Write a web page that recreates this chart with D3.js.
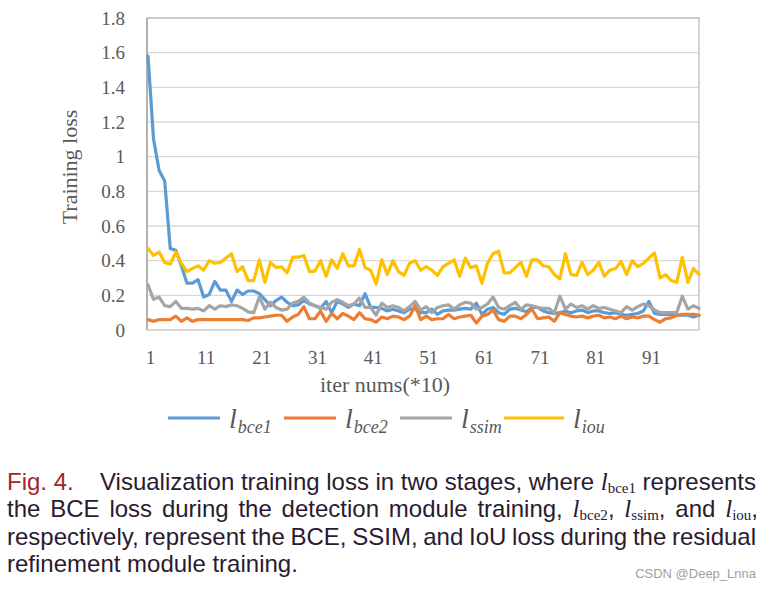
<!DOCTYPE html>
<html><head><meta charset="utf-8">
<script src="https://cdn.jsdelivr.net/npm/d3@7"></script>
<style>body{margin:0;background:#fff}svg{display:block}</style>
</head><body>
<svg id="c" width="771" height="589"></svg>
<script>
const iters = d3.range(1, 101);
const xTickLabels = ["1","11","21","31","41","51","61","71","81","91"];
const yTickValues = [0,0.2,0.4,0.6,0.8,1,1.2,1.4,1.6,1.8];
const seriesNames = ["bce1","bce2","ssim","iou"];
const seriesColors = ["#5B9BD5","#ED7D31","#A5A5A5","#FFC000"];

const bce1 = [1.58,1.10,0.92,0.86,0.47,0.46,0.37,0.27,0.27,0.29,
0.19,0.205,0.28,0.23,0.23,0.165,0.23,0.205,0.225,0.225,
0.21,0.175,0.14,0.17,0.19,0.16,0.14,0.145,0.17,0.15,
0.14,0.125,0.165,0.10,0.165,0.15,0.13,0.15,0.14,0.21,
0.13,0.13,0.125,0.11,0.12,0.11,0.10,0.12,0.12,0.10,
0.10,0.12,0.09,0.11,0.115,0.115,0.12,0.125,0.12,0.155,
0.09,0.12,0.13,0.10,0.09,0.12,0.125,0.115,0.105,0.13,
0.13,0.11,0.10,0.095,0.10,0.11,0.10,0.11,0.115,0.10,
0.11,0.11,0.10,0.095,0.10,0.09,0.085,0.09,0.095,0.11,
0.165,0.095,0.09,0.09,0.09,0.085,0.085,0.085,0.075,0.085];
const bce2 = [0.06,0.05,0.06,0.06,0.06,0.08,0.05,0.07,0.05,0.06,
0.06,0.06,0.06,0.06,0.06,0.06,0.06,0.06,0.055,0.07,
0.07,0.075,0.08,0.085,0.085,0.05,0.075,0.09,0.135,0.065,
0.065,0.11,0.05,0.095,0.065,0.095,0.08,0.06,0.10,0.065,
0.06,0.045,0.075,0.065,0.08,0.075,0.06,0.08,0.14,0.06,
0.08,0.06,0.065,0.065,0.09,0.065,0.075,0.08,0.085,0.04,
0.08,0.09,0.115,0.06,0.05,0.08,0.08,0.065,0.09,0.12,
0.065,0.07,0.075,0.05,0.10,0.09,0.08,0.075,0.08,0.07,
0.08,0.085,0.07,0.075,0.065,0.08,0.065,0.075,0.07,0.08,
0.08,0.06,0.045,0.065,0.07,0.085,0.09,0.09,0.09,0.085];
const ssim = [0.26,0.177,0.19,0.14,0.135,0.165,0.125,0.125,0.12,0.125,
0.11,0.14,0.12,0.14,0.135,0.145,0.14,0.125,0.105,0.10,
0.19,0.12,0.16,0.13,0.115,0.12,0.155,0.165,0.19,0.155,
0.14,0.13,0.12,0.16,0.175,0.16,0.14,0.15,0.185,0.13,
0.13,0.085,0.155,0.13,0.14,0.13,0.11,0.135,0.165,0.115,
0.135,0.10,0.13,0.14,0.145,0.12,0.145,0.16,0.155,0.12,
0.13,0.15,0.19,0.13,0.12,0.14,0.16,0.12,0.145,0.14,
0.13,0.125,0.125,0.10,0.195,0.12,0.15,0.13,0.14,0.12,
0.14,0.125,0.13,0.12,0.11,0.10,0.135,0.115,0.135,0.15,
0.14,0.115,0.10,0.10,0.10,0.10,0.195,0.12,0.14,0.125];
const iou = [0.47,0.43,0.45,0.39,0.38,0.45,0.385,0.337,0.355,0.37,
0.345,0.40,0.385,0.39,0.415,0.44,0.337,0.365,0.285,0.285,
0.405,0.275,0.39,0.36,0.365,0.33,0.42,0.42,0.43,0.337,
0.34,0.40,0.31,0.405,0.355,0.44,0.37,0.37,0.465,0.36,
0.345,0.265,0.405,0.32,0.40,0.337,0.315,0.385,0.40,0.345,
0.365,0.345,0.315,0.365,0.385,0.405,0.31,0.415,0.36,0.37,
0.27,0.385,0.44,0.455,0.33,0.33,0.36,0.39,0.31,0.405,
0.405,0.37,0.365,0.32,0.295,0.44,0.32,0.315,0.39,0.32,
0.345,0.39,0.31,0.345,0.355,0.395,0.32,0.40,0.365,0.385,
0.415,0.445,0.30,0.32,0.285,0.275,0.42,0.275,0.355,0.32];
const seriesValues = [bce1, bce2, ssim, iou];

const svg = d3.select("#c");
svg.append("rect").attr("width",771).attr("height",589).attr("fill","#fff");

const L = 147, R = 699, T = 18, B = 330;
const x = d3.scaleLinear().domain([1,100]).range([L+1, R]);
const y = d3.scaleLinear().domain([0,1.8]).range([B, T]);
const serif = "'Liberation Serif','Times New Roman',serif";
const sans = "'Liberation Sans',Arial,Helvetica,sans-serif";

// gridlines
svg.append("g").selectAll("line").data(yTickValues.slice(1)).join("line")
  .attr("x1",L).attr("x2",R).attr("y1",d=>y(d)).attr("y2",d=>y(d))
  .attr("stroke","#d9d9d9").attr("stroke-width",1.3);
// plot border
svg.append("rect").attr("x",L).attr("y",T).attr("width",R-L).attr("height",B-T)
  .attr("fill","none").attr("stroke","#bfbfbf").attr("stroke-width",1.3);
svg.append("line").attr("x1",L).attr("x2",L).attr("y1",T).attr("y2",B)
  .attr("stroke","#a6a6a6").attr("stroke-width",1.5);
svg.append("line").attr("x1",L).attr("x2",R).attr("y1",B).attr("y2",B)
  .attr("stroke","#d9d9d9").attr("stroke-width",1.3);

// y axis
const yAxis = svg.append("g").attr("transform",`translate(${L},0)`)
  .call(d3.axisLeft(y).tickValues(yTickValues).tickSize(0).tickPadding(22).tickFormat(d3.format("~g")));
yAxis.select(".domain").remove();
yAxis.selectAll("text").attr("font-family",serif).attr("font-size",19).attr("fill","#595959");

// x axis
const xAxis = svg.append("g").attr("transform",`translate(0,${B})`)
  .call(d3.axisBottom(x).tickValues(xTickLabels.map(Number)).tickSize(0).tickPadding(21).tickFormat((d,i)=>xTickLabels[i]));
xAxis.select(".domain").remove();
xAxis.selectAll("text").attr("font-family",serif).attr("font-size",19).attr("fill","#595959").attr("dx",2);

// axis titles
svg.append("text").attr("transform","translate(77,167) rotate(-90)").attr("text-anchor","middle")
  .attr("font-family",serif).attr("font-size",22).attr("fill","#595959").text("Training loss");
svg.append("text").attr("x",385).attr("y",392).attr("text-anchor","middle")
  .attr("font-family",serif).attr("font-size",22).attr("fill","#595959").text("iter nums(*10)");

// lines
const line = d3.line().x((d,i)=>x(iters[i])).y(d=>y(d));
seriesValues.forEach((vals,k)=>{
  svg.append("path").datum(vals).attr("d",line).attr("fill","none")
    .attr("stroke",seriesColors[k]).attr("stroke-width",3.2)
    .attr("stroke-linejoin","round").attr("stroke-linecap","round");
});

// legend
const legX = [168, 284, 400, 504];
const legW = [52, 52, 52, 60];
seriesNames.forEach((n,k)=>{
  svg.append("line").attr("x1",legX[k]).attr("x2",legX[k]+legW[k]).attr("y1",418).attr("y2",418)
    .attr("stroke",seriesColors[k]).attr("stroke-width",3.2);
  const t = svg.append("text").attr("x",legX[k]+legW[k]+9).attr("y",428)
    .attr("font-family",serif).attr("font-style","italic").attr("fill","#595959");
  t.append("tspan").attr("font-size",28).text("l");
  t.append("tspan").attr("font-size",18).attr("dy",5).attr("dx",1).text(n);
});

// caption
const capColor = "#2b1a30";
const figColor = "#a5242b";
const capSize = 24;
function makeToken(g, spans){
  const t = g.append("text").attr("y",0).attr("fill",capColor);
  spans.forEach(s=>{
    const ts = t.append("tspan").text(s.t)
      .attr("font-family", s.serif ? serif : sans)
      .attr("font-size", s.size || capSize);
    if (s.italic) ts.attr("font-style","italic");
    if (s.dy) ts.attr("dy", s.dy);
  });
  return t;
}
function mathTok(sub, tail){
  const arr = [{t:"l",serif:true,italic:true,size:25},{t:sub,serif:true,size:15,dy:3}];
  if (tail) arr.push({t:tail,dy:-3});
  return arr;
}
function justify(tokens, x0, x1, yb){
  const g = svg.append("g").attr("transform",`translate(0,${yb})`);
  const els = tokens.map(tk => makeToken(g, typeof tk === "string" ? [{t:tk}] : tk));
  const widths = els.map(e => e.node().getComputedTextLength());
  const total = d3.sum(widths);
  const gap = (x1 - x0 - total) / (els.length - 1);
  let cx = x0;
  els.forEach((e,i)=>{ e.attr("x",cx); cx += widths[i] + gap; });
}
svg.append("text").attr("x",7).attr("y",490).attr("font-family",sans).attr("font-size",capSize)
  .attr("fill",figColor).text("Fig. 4.");
justify(["Visualization","training","loss","in","two","stages,","where",mathTok("bce1"),"represents"],100,756,490);
justify(["the","BCE","loss","during","the","detection","module","training,",mathTok("bce2",","),mathTok("ssim",","),"and",mathTok("iou",",")],7,758,517);
justify(["respectively,","represent","the","BCE,","SSIM,","and","IoU","loss","during","the","residual"],7,756,545);
svg.append("text").attr("x",7).attr("y",572).attr("font-family",sans).attr("font-size",capSize)
  .attr("fill",capColor).text("refinement module training.");
svg.append("text").attr("x",756).attr("y",578).attr("text-anchor","end").attr("font-family",sans)
  .attr("font-size",13).attr("fill","#a0a0a0").text("CSDN @Deep_Lnna");
</script>
</body></html>
